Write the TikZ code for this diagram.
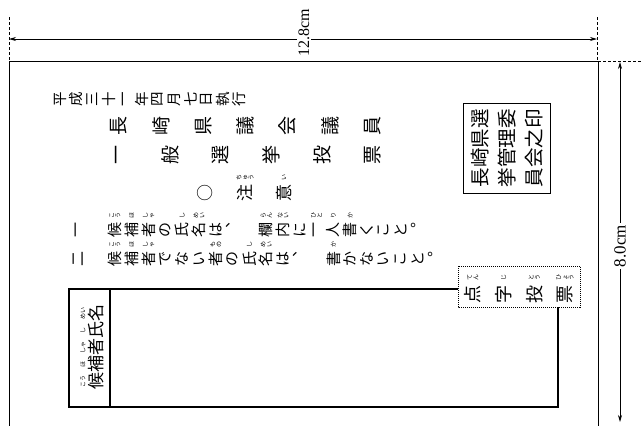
\documentclass[tikz,border=0pt]{standalone}
\usepackage{fontspec}
\setmainfont{Liberation Serif}
\newfontfamily\jp{Noto Sans CJK JP}
\usetikzlibrary{arrows.meta}
\newcommand\jrow[5]{%
  \foreach \c [count=\i from 0] in {#5} {%
    \node[jch, font=\jp\fontsize{#4}{#4}\selectfont] at ({#1+\i*#3}, #2) {\c};
  }%
}
\newcommand\rbr[5]{\node[rb] at ({#1+#3*#2},#4) {#5};}
\begin{document}
\begin{tikzpicture}[x=1pt,y=-1pt,
  jch/.style={rotate=90, inner sep=0pt, anchor=center},
  rb/.style={rotate=90, inner sep=0pt, align=center, font=\jp\fontsize{6}{6.2}\selectfont},
  dimline/.style={line width=0.7pt, {Stealth[length=7pt,width=4pt]}-{Stealth[length=7pt,width=4pt]}},
  guide/.style={line width=0.6pt, dash pattern=on 3pt off 2pt},
  frame/.style={line width=0.9pt},
  boxline/.style={line width=1.2pt},
  dimtext/.style={rotate=90, fill=white, inner sep=1.5pt}]
\useasboundingbox (0,0) rectangle (641,426);
% dimension guides
\draw[guide] (9,17) -- (9,61);
\draw[guide] (597,17) -- (597,61);
\draw[guide] (598,61) -- (641,61);
\coordinate (tl) at (9,39); \coordinate (tr) at (597,39);
\draw[dimline] (tl) -- (tr);
\node[dimtext, font=\fontsize{16}{16}\selectfont] (w) at (304,33) {12.8cm};
\coordinate (rt) at (620,62); \coordinate (rbm) at (620,422);
\draw[dimline] (rt) -- (rbm);
\node[dimtext, font=\fontsize{17}{17}\selectfont] (h) at (620,246) {8.0cm};
% ballot frame
\draw[frame] (9,426) -- (9,61) -- (598,61) -- (598,426);
% row 1
\jrow{60}{99}{16.3}{14.5}{平,成,三,十,一,年,四,月,七,日,執,行}
% row 2
\jrow{119}{126}{42.2}{19}{長,崎,県,議,会,議,員}
% row 3
\jrow{119}{155}{50.8}{19}{一,般,選,挙,投,票}
% row 4
\node[jch, font=\jp\fontsize{17}{17}\selectfont] (maru) at (205,193) {○};
\node[jch, font=\jp\fontsize{17}{17}\selectfont] (chu) at (245,193) {注};
\node[jch, font=\jp\fontsize{17}{17}\selectfont] (i) at (284,193) {意};
\node[rb] at (245,177) {ち\\ゅ\\う};
\node[rb] at (284,177) {い};
% row 5
\node[jch, font=\jp\fontsize{15}{15}\selectfont] at (78,230) {一};
\jrow{115}{230}{16.8}{15}{候,補,者,の,氏,名,は,︑,{},欄,内,に,一,人,書,く,こ,と,︒}
\rbr{115}{0}{16.8}{215}{こ\\う}
\rbr{115}{1}{16.8}{215}{ほ}
\rbr{115}{2}{16.8}{215}{し\\ゃ}
\rbr{115}{4}{16.8}{215}{し}
\rbr{115}{5}{16.8}{215}{め\\い}
\rbr{115}{9}{16.8}{215}{ら\\ん}
\rbr{115}{10}{16.8}{215}{な\\い}
\rbr{115}{12}{16.8}{215}{ひ\\と}
\rbr{115}{13}{16.8}{215}{り}
\rbr{115}{14}{16.8}{215}{か}
% row 6
\node[jch, font=\jp\fontsize{15}{15}\selectfont] at (78,259) {二};
\jrow{115}{259}{16.8}{15}{候,補,者,で,な,い,者,の,氏,名,は,︑,{},書,か,な,い,こ,と,︒}
\rbr{115}{0}{16.8}{244}{こ\\う}
\rbr{115}{1}{16.8}{244}{ほ}
\rbr{115}{2}{16.8}{244}{し\\ゃ}
\rbr{115}{6}{16.8}{244}{も\\の}
\rbr{115}{8}{16.8}{244}{し}
\rbr{115}{9}{16.8}{244}{め\\い}
\rbr{115}{13}{16.8}{244}{か}
% seal box
\draw[line width=0.8pt] (463,103) rectangle (550,193);
\node[rotate=90, inner sep=0pt, align=center, font=\jp\fontsize{19.5}{27}\selectfont] (seal) at (507,148) {長崎県選\\挙管理委\\員会之印};
% braille box
\draw[line width=1pt, dash pattern=on 1pt off 1pt] (458,266) rectangle (580,307);
\jrow{473}{294}{30.7}{18}{点,字,投,票}
\node[rb] at (473,277) {て\\ん};
\node[rb] at (503.7,277) {じ};
\node[rb] at (534.4,277) {と\\う};
\node[rb] at (565.1,277) {ひ\\ょ\\う};
% candidate box
\draw[boxline] (458,289) -- (69,289) -- (69,407) -- (558,407) -- (558,307);
\draw[boxline] (110,289) -- (110,407);
\node[rotate=90, inner sep=0pt, font=\jp\fontsize{17}{17}\selectfont] (cand) at (96,347) {候補者氏名};
\node[rotate=90, inner sep=0pt, font=\jp\fontsize{6}{6}\selectfont] at (83,381) {こう};
\node[rotate=90, inner sep=0pt, font=\jp\fontsize{6}{6}\selectfont] at (83,364) {ほ};
\node[rotate=90, inner sep=0pt, font=\jp\fontsize{6}{6}\selectfont] at (83,347) {しゃ};
\node[rotate=90, inner sep=0pt, font=\jp\fontsize{6}{6}\selectfont] at (83,330) {し};
\node[rotate=90, inner sep=0pt, font=\jp\fontsize{6}{6}\selectfont] at (83,313) {めい};
\end{tikzpicture}
\end{document}
